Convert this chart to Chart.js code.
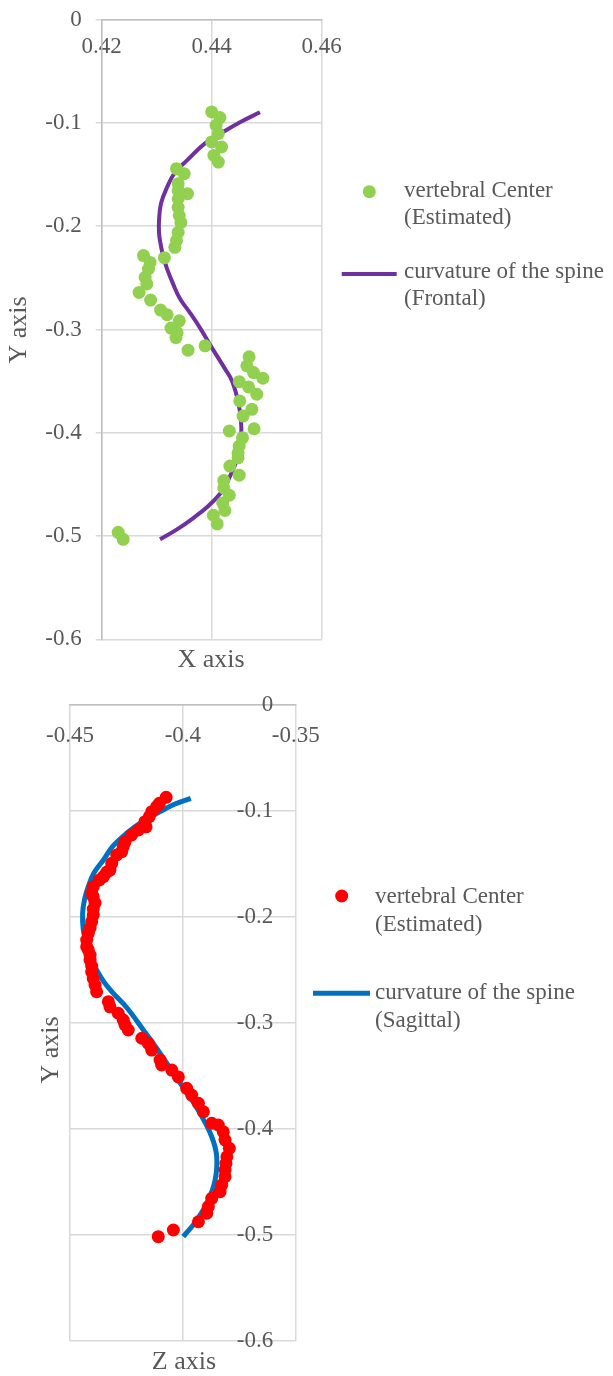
<!DOCTYPE html>
<html>
<head>
<meta charset="utf-8">
<script src="https://cdn.jsdelivr.net/npm/chart.js@4.4.1/dist/chart.umd.min.js"></script>
<style>
    html, body { margin: 0; padding: 0; background: #fff; }
    .wrap { position: absolute; left: 0; width: 613px; }
    #frontalWrap { top: 0; height: 680px; }
    #sagittalWrap { top: 680px; height: 696px; }
    canvas { display: block; }
</style>
</head>
<body>
<div class="wrap" id="frontalWrap"><canvas id="frontalChart" width="613" height="680"></canvas></div>
<div class="wrap" id="sagittalWrap"><canvas id="sagittalChart" width="613" height="696"></canvas></div>
<script>
// --- frontal view: estimated vertebral centres (x, y)
const frontalX = [
    0.4400, 0.4415, 0.4408, 0.4412, 0.4400, 0.4418, 0.4404, 0.4412, 0.4336, 0.4350,
    0.4339, 0.4356, 0.4339, 0.4339, 0.4339, 0.4341, 0.4344, 0.4339, 0.4336, 0.4333,
    0.4314, 0.4276, 0.4288, 0.4285, 0.4279, 0.4282, 0.4268, 0.4289, 0.4307, 0.4319,
    0.4341, 0.4326, 0.4337, 0.4335, 0.4357, 0.4388, 0.4468, 0.4464, 0.4476, 0.4493,
    0.4450, 0.4467, 0.4482, 0.4451, 0.4473, 0.4457, 0.4432, 0.4477, 0.4456, 0.4450,
    0.4448, 0.4448, 0.4433, 0.4450, 0.4422, 0.4422, 0.4432, 0.4420, 0.4424, 0.4403,
    0.4410, 0.4230, 0.4239
];
const frontalY = [
    -0.0893, -0.0948, -0.1022, -0.1103, -0.1184, -0.1233, -0.1314, -0.1379, -0.1443, -0.1491,
    -0.1588, -0.1685, -0.1653, -0.1734, -0.1816, -0.1896, -0.1964, -0.2058, -0.2139, -0.2204,
    -0.2304, -0.2284, -0.2350, -0.2414, -0.2495, -0.2559, -0.2641, -0.2715, -0.2812, -0.2857,
    -0.2916, -0.2986, -0.3029, -0.3078, -0.3200, -0.3158, -0.3265, -0.3352, -0.3417, -0.3472,
    -0.3505, -0.3556, -0.3627, -0.3692, -0.3773, -0.3838, -0.3983, -0.3961, -0.4049, -0.4129,
    -0.4194, -0.4243, -0.4323, -0.4411, -0.4462, -0.4534, -0.4605, -0.4680, -0.4753, -0.4799,
    -0.4883, -0.4964, -0.5032
];
// frontal spine curve
const frontalCurveX = [
    0.44878, 0.44515, 0.44205, 0.43878, 0.43551, 0.43333, 0.43187, 0.43078, 0.43042, 0.43042,
    0.43060, 0.43115, 0.43187, 0.43296, 0.43424, 0.43605, 0.43787, 0.44005, 0.44242, 0.44369,
    0.44478, 0.44533, 0.44533, 0.44460, 0.44333, 0.44187, 0.43933, 0.43660, 0.43369, 0.43060
];
const frontalCurveY = [
    -0.0896, -0.0993, -0.1089, -0.1197, -0.1362, -0.1479, -0.1624, -0.1780, -0.1945, -0.2061,
    -0.2139, -0.2284, -0.2411, -0.2556, -0.2702, -0.2838, -0.2984, -0.3178, -0.3381, -0.3498,
    -0.3692, -0.3886, -0.4032, -0.4255, -0.4420, -0.4566, -0.4712, -0.4828, -0.4935, -0.5032
];

// --- sagittal view: estimated vertebral centres (z, y)
const sagittalZ = [
    -0.4074, -0.4104, -0.4116, -0.4138, -0.4149, -0.4168, -0.4163, -0.4197, -0.4227, -0.4256,
    -0.4264, -0.4271, -0.4293, -0.4315, -0.4323, -0.4337, -0.4352, -0.4370, -0.4397, -0.4404,
    -0.4397, -0.4389, -0.4397, -0.4397, -0.4404, -0.4411, -0.4419, -0.4426, -0.4426, -0.4419,
    -0.4411, -0.4411, -0.4404, -0.4404, -0.4397, -0.4389, -0.4382, -0.4330, -0.4323, -0.4286,
    -0.4264, -0.4256, -0.4242, -0.4182, -0.4153, -0.4138, -0.4101, -0.4094, -0.4049, -0.4020,
    -0.3983, -0.3961, -0.3931, -0.3909, -0.3872, -0.3843, -0.3821, -0.3813, -0.3794, -0.3805,
    -0.3809, -0.3813, -0.3813, -0.3828, -0.3835, -0.3872, -0.3887, -0.3894, -0.3931, -0.4042,
    -0.4109
];
const sagittalY = [
    -0.0871, -0.0928, -0.0959, -0.1006, -0.1054, -0.1101, -0.1149, -0.1179, -0.1226, -0.1290,
    -0.1337, -0.1384, -0.1415, -0.1493, -0.1557, -0.1576, -0.1619, -0.1651, -0.1714, -0.1777,
    -0.1811, -0.1868, -0.1925, -0.1982, -0.2044, -0.2104, -0.2154, -0.2217, -0.2280, -0.2311,
    -0.2359, -0.2406, -0.2462, -0.2519, -0.2579, -0.2642, -0.2705, -0.2799, -0.2847, -0.2908,
    -0.2972, -0.3019, -0.3066, -0.3144, -0.3192, -0.3255, -0.3349, -0.3396, -0.3444, -0.3509,
    -0.3616, -0.3680, -0.3757, -0.3837, -0.3946, -0.3962, -0.4026, -0.4104, -0.4182, -0.4262,
    -0.4324, -0.4387, -0.4450, -0.4529, -0.4591, -0.4654, -0.4733, -0.4795, -0.4875, -0.4953,
    -0.5016
];
// sagittal spine curve
const sagittalCurveZ = [
    -0.3965, -0.4035, -0.4101, -0.4176, -0.4249, -0.4309, -0.4352, -0.4394, -0.4419, -0.4436,
    -0.4444, -0.4441, -0.4426, -0.4407, -0.4382, -0.4349, -0.4308, -0.4249, -0.4175, -0.4101,
    -0.4042, -0.3981, -0.3924, -0.3872, -0.3850, -0.3857, -0.3887, -0.3938, -0.3998
];
const sagittalCurveY = [
    -0.0880, -0.0934, -0.1006, -0.1095, -0.1210, -0.1330, -0.1462, -0.1585, -0.1714, -0.1839,
    -0.1965, -0.2123, -0.2248, -0.2378, -0.2500, -0.2614, -0.2720, -0.2854, -0.3066, -0.3285,
    -0.3475, -0.3661, -0.3852, -0.4073, -0.4262, -0.4481, -0.4670, -0.4859, -0.5016
];

// ticks
const frontalXTicks = [0.42, 0.44, 0.46];
const frontalXTickLabels = ["0.42", "0.44", "0.46"];
const sagittalZTicks = [-0.45, -0.4, -0.35];
const sagittalZTickLabels = ["-0.45", "-0.4", "-0.35"];
const yTicks = [0, -0.1, -0.2, -0.3, -0.4, -0.5, -0.6];
const yTickLabels = ["0", "-0.1", "-0.2", "-0.3", "-0.4", "-0.5", "-0.6"];

const pointSeriesLines = ["vertebral Center", "(Estimated)"];
const frontalCurveLines = ["curvature of the spine", "(Frontal)"];
const sagittalCurveLines = ["curvature of the spine", "(Sagittal)"];

const FONT = '"Liberation Serif", "Times New Roman", serif';
const TEXT = "#595959";
const GRID = "#d9d9d9";
const AXIS = "#bfbfbf";

const colors = {
    frontalPoints: "#92d050",
    frontalCurve: "#7030a0",
    sagittalPoints: "#ff0000",
    sagittalCurve: "#0070c0"
};

Chart.defaults.font.family = FONT;
Chart.defaults.color = TEXT;

const toXY = (xs, ys) => xs.map((x, i) => ({ x, y: ys[i] }));

const fixedTicks = (values) => (scale) => {
    scale.ticks = values.map((value) => ({ value }));
};

// the y axis should not push the plot area around
const noLabelOverflow = (scale) => {
    scale.paddingTop = 0;
    scale.paddingBottom = 0;
};

// draws the side legend and the axis titles
const annotations = {
    id: "annotations",
    afterDraw(chart, args, opts) {
        const ctx = chart.ctx;
        ctx.save();
        ctx.textBaseline = "middle";
        ctx.fillStyle = TEXT;

        (opts.items || []).forEach((item) => {
            const ds = chart.data.datasets[item.dataset];
            if (item.marker === "point") {
                ctx.beginPath();
                ctx.arc(item.mx, item.my, item.r, 0, Math.PI * 2);
                ctx.fillStyle = ds.backgroundColor;
                ctx.fill();
            } else {
                ctx.beginPath();
                ctx.moveTo(item.mx, item.my);
                ctx.lineTo(item.mx2, item.my);
                ctx.strokeStyle = ds.borderColor;
                ctx.lineWidth = ds.borderWidth;
                ctx.stroke();
            }
            ctx.fillStyle = TEXT;
            ctx.textAlign = "left";
            ctx.font = `${opts.legendSize}px ${FONT}`;
            item.lines.forEach((line, i) => {
                ctx.fillText(line, item.tx, item.ty + i * opts.lineGap);
            });
        });

        ctx.font = `${opts.titleSize}px ${FONT}`;
        ctx.textAlign = "center";
        (opts.titles || []).forEach((t) => {
            ctx.save();
            ctx.translate(t.x, t.y);
            if (t.rotate) ctx.rotate(-Math.PI / 2);
            ctx.fillText(t.text, 0, 0);
            ctx.restore();
        });
        ctx.restore();
    }
};

const tickFont = { family: FONT, size: 23 };

const frontalChart = new Chart(document.getElementById("frontalChart"), {
    type: "scatter",
    data: {
        datasets: [
            {
                label: pointSeriesLines.join(" "),
                data: toXY(frontalX, frontalY),
                backgroundColor: colors.frontalPoints,
                borderColor: colors.frontalPoints,
                pointRadius: 6.5,
                pointBorderWidth: 0
            },
            {
                label: frontalCurveLines.join(" "),
                data: toXY(frontalCurveX, frontalCurveY),
                showLine: true,
                borderColor: colors.frontalCurve,
                backgroundColor: colors.frontalCurve,
                borderWidth: 4,
                pointRadius: 0,
                tension: 0.4,
                fill: false
            }
        ]
    },
    options: {
        responsive: false,
        animation: false,
        events: [],
        layout: { padding: { left: 40, right: 291.3, top: 19.7, bottom: 40.7 } },
        plugins: {
            legend: { display: false },
            tooltip: { enabled: false },
            annotations: {
                legendSize: 23,
                titleSize: 26,
                lineGap: 27,
                items: [
                    { dataset: 0, marker: "point", mx: 369.3, my: 191.7, r: 6.5, tx: 404, ty: 190.7, lines: pointSeriesLines },
                    { dataset: 1, marker: "line", mx: 341.7, mx2: 396.7, my: 274, tx: 404, ty: 271.7, lines: frontalCurveLines }
                ],
                titles: [
                    { text: "Y axis", x: 19, y: 330, rotate: true },
                    { text: "X axis", x: 211, y: 660 }
                ]
            }
        },
        scales: {
            x: {
                type: "linear",
                position: { y: 0 },
                min: 0.42,
                max: 0.46,
                afterBuildTicks: fixedTicks(frontalXTicks),
                ticks: {
                    font: tickFont,
                    color: TEXT,
                    padding: 13,
                    maxRotation: 0,
                    autoSkip: false,
                    callback: (v, i) => frontalXTickLabels[i]
                },
                grid: { color: GRID, lineWidth: 1.5, drawTicks: false },
                border: { color: AXIS, width: 1.5 }
            },
            y: {
                type: "linear",
                position: "left",
                min: -0.6,
                max: 0,
                afterBuildTicks: fixedTicks(yTicks),
                afterFit: (scale) => {
                    scale.width = 61.7;
                    noLabelOverflow(scale);
                },
                ticks: {
                    font: tickFont,
                    color: TEXT,
                    padding: 14,
                    autoSkip: false,
                    callback: (v, i) => yTickLabels[i]
                },
                grid: { color: GRID, lineWidth: 1.5, tickLength: 6 },
                border: { color: AXIS, width: 1.5 }
            }
        }
    },
    plugins: [annotations]
});

const sagittalChart = new Chart(document.getElementById("sagittalChart"), {
    type: "scatter",
    data: {
        datasets: [
            {
                label: pointSeriesLines.join(" "),
                data: toXY(sagittalZ, sagittalY),
                backgroundColor: colors.sagittalPoints,
                borderColor: colors.sagittalPoints,
                pointRadius: 6.5,
                pointBorderWidth: 0
            },
            {
                label: sagittalCurveLines.join(" "),
                data: toXY(sagittalCurveZ, sagittalCurveY),
                showLine: true,
                borderColor: colors.sagittalCurve,
                backgroundColor: colors.sagittalCurve,
                borderWidth: 5,
                pointRadius: 0,
                tension: 0.4,
                fill: false
            }
        ]
    },
    options: {
        responsive: false,
        animation: false,
        events: [],
        layout: { padding: { left: 70, right: 317.3, top: 25, bottom: 35 } },
        plugins: {
            legend: { display: false },
            tooltip: { enabled: false },
            annotations: {
                legendSize: 23,
                titleSize: 26,
                lineGap: 28,
                items: [
                    { dataset: 0, marker: "point", mx: 341.7, my: 216, r: 6.5, tx: 375, ty: 216.7, lines: pointSeriesLines },
                    { dataset: 1, marker: "line", mx: 313, mx2: 370, my: 313.3, tx: 375, ty: 313, lines: sagittalCurveLines }
                ],
                titles: [
                    { text: "Y axis", x: 51, y: 370, rotate: true },
                    { text: "Z axis", x: 184, y: 682 }
                ]
            }
        },
        scales: {
            x: {
                type: "linear",
                position: { y: 0 },
                min: -0.45,
                max: -0.35,
                afterBuildTicks: fixedTicks(sagittalZTicks),
                ticks: {
                    font: tickFont,
                    color: TEXT,
                    padding: 17,
                    maxRotation: 0,
                    autoSkip: false,
                    callback: (v, i) => sagittalZTickLabels[i]
                },
                grid: { color: GRID, lineWidth: 1.5, drawTicks: false },
                border: { color: AXIS, width: 1.5 }
            },
            y: {
                type: "linear",
                position: { x: -0.36 },
                min: -0.6,
                max: 0,
                afterBuildTicks: fixedTicks(yTicks),
                afterFit: noLabelOverflow,
                ticks: {
                    font: tickFont,
                    color: TEXT,
                    padding: 0,
                    autoSkip: false,
                    callback: (v, i) => yTickLabels[i]
                },
                grid: { color: GRID, lineWidth: 1.5, drawTicks: false },
                border: { display: false }
            }
        }
    },
    plugins: [annotations]
});
</script>
</body>
</html>
